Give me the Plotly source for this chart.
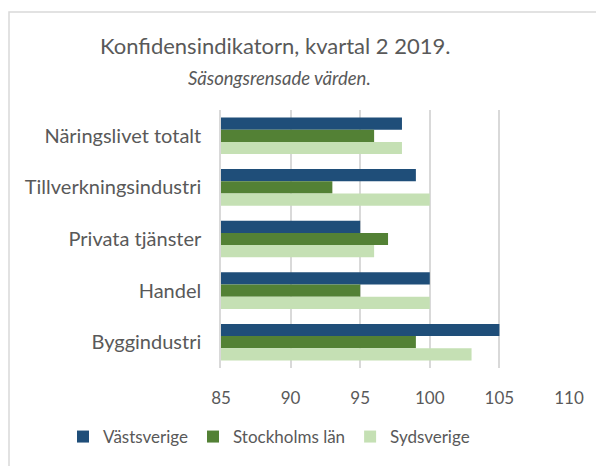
import plotly.graph_objects as go

categories = ["Näringslivet totalt", "Tillverkningsindustri", "Privata tjänster", "Handel", "Byggindustri"]
vastsverige = [98, 99, 95, 100, 105]
stockholm = [96, 93, 97, 95, 99]
sydsverige = [98, 100, 96, 100, 103]
series_names = ["Västsverige", "Stockholms län", "Sydsverige"]
colors = ["#1F4E79", "#538135", "#C5E0B4"]
tick_vals = [85, 90, 95, 100, 105, 110]

FONT = "Lato"
GREY = "#595959"
L, R, T, B = 221, 27, 110, 98
PW, PH = 596 - L - R, 466 - T - B

fig = go.Figure()
for name, vals, col in zip(series_names, [vastsverige, stockholm, sydsverige], colors):
    fig.add_trace(go.Bar(y=categories, x=[v - 85 for v in vals], base=85, name=name,
                         orientation="h", marker=dict(color=col, line=dict(width=0)),
                         hovertemplate="%{y}: %{x}<extra>" + name + "</extra>"))

fig.update_layout(
    width=596, height=466,
    margin=dict(l=L, r=R, t=T, b=B, autoexpand=False),
    paper_bgcolor="white", plot_bgcolor="white",
    barmode="group", bargap=0.29, bargroupgap=0,
    font=dict(family=FONT, color=GREY, size=16),
    showlegend=True,
    legend=dict(orientation="h", xref="paper", yref="paper", x=(63 - L) / PW, y=(466 - B - 437) / PH,
                xanchor="left", yanchor="middle", traceorder="normal",
                font=dict(size=17, color=GREY), itemwidth=30),
    xaxis=dict(range=[85, 110], tickvals=tick_vals, showgrid=True, gridcolor="#D9D9D9",
               gridwidth=1.5, zeroline=False, showline=False, ticks="",
               ticklabelstandoff=18, tickfont=dict(size=17, color=GREY)),
    yaxis=dict(autorange="reversed", showgrid=False, showline=True, linecolor="#D9D9D9",
               linewidth=1.5, ticks="", ticklabelstandoff=14, tickfont=dict(size=20, color=GREY)),
    annotations=[
        dict(text="Konfidensindikatorn, kvartal 2 2019.", xref="paper", yref="paper",
             x=(275 - L) / PW, y=(466 - B - 45) / PH, showarrow=False,
             xanchor="center", yanchor="middle", font=dict(size=22, color=GREY, family=FONT)),
        dict(text="<i>Säsongsrensade värden.</i>", xref="paper", yref="paper",
             x=(279 - L) / PW, y=(466 - B - 78) / PH, showarrow=False,
             xanchor="center", yanchor="middle", font=dict(size=18.5, color=GREY, family=FONT)),
    ],
    shapes=[dict(type="rect", xref="paper", yref="paper",
                 x0=(9 - L) / PW, x1=1.2, y0=-0.5, y1=(466 - B - 12) / PH,
                 line=dict(color="#D9D9D9", width=1.5), fillcolor="rgba(0,0,0,0)", layer="below")],
)

fig.write_html("out.html")
